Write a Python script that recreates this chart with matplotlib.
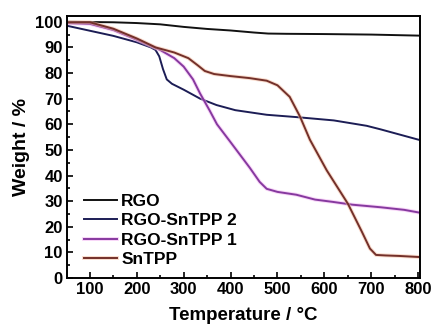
import matplotlib
matplotlib.use("Agg")
import matplotlib.pyplot as plt
import matplotlib.patheffects as pe
from matplotlib.ticker import MultipleLocator

plt.rcParams["font.family"] = ["Liberation Sans", "DejaVu Sans"]
plt.rcParams["font.weight"] = "bold"

# values
rgo_t = [50, 100, 150, 200, 250, 300, 350, 400, 450, 480, 520, 600, 700, 800]
rgo_w = [100, 99.9, 99.8, 99.5, 99.0, 98.0, 97.2, 96.6, 95.8, 95.4, 95.3, 95.2, 95.0, 94.6]

sn2_t = [50, 100, 150, 200, 230, 240, 248, 256, 264, 275, 300, 335, 370, 410, 477, 540, 620, 690, 720, 760, 800]
sn2_w = [98.5, 96.5, 94.5, 92.0, 90.0, 89.0, 86.5, 81.5, 77.5, 75.8, 73.5, 70.0, 67.5, 65.5, 63.7, 62.8, 61.5, 59.4, 58.0, 56.0, 54.0]

sn1_t = [50, 100, 150, 200, 250, 280, 300, 320, 335, 355, 371, 400, 441, 462, 477, 500, 540, 580, 618, 660, 720, 770, 800]
sn1_w = [99.5, 99.2, 96.8, 93.0, 89.0, 85.8, 82.5, 77.5, 72.0, 65.5, 60.0, 53.0, 43.0, 37.5, 34.8, 33.6, 32.5, 30.6, 29.7, 28.6, 27.6, 26.6, 25.6]

snt_t = [50, 100, 150, 200, 240, 280, 310, 330, 345, 365, 400, 441, 477, 500, 526, 548, 569, 605, 650, 680, 697, 710, 730, 760, 800]
snt_w = [99.8, 99.8, 97.3, 93.5, 90.0, 88.0, 85.8, 83.0, 80.8, 79.6, 78.8, 78.0, 77.0, 75.2, 70.7, 63.0, 54.0, 42.0, 29.0, 18.0, 11.5, 9.0, 8.8, 8.6, 8.2]

series = [
    ("RGO", rgo_t, rgo_w, "#111111", None),
    ("RGO-SnTPP 2", sn2_t, sn2_w, "#1c1d55", None),
    ("RGO-SnTPP 1", sn1_t, sn1_w, "#86399f", "#f3b4f3"),
    ("SnTPP", snt_t, snt_w, "#73302a", "#f5c0a5"),
]

fig = plt.figure(figsize=(4.34, 3.24), dpi=100)
ax = fig.add_axes([0.154, 0.142, 0.814, 0.809])

for name, t, w, color, glow in series:
    effects = None
    if glow is not None:
        effects = [pe.Stroke(linewidth=2.8, foreground=glow, alpha=0.55), pe.Normal()]
    ax.plot(t, w, color=color, lw=1.4, label=name, path_effects=effects)

ax.set_xlim(51, 804)
ax.set_ylim(0, 102.3)
ax.xaxis.set_major_locator(MultipleLocator(100))
ax.xaxis.set_minor_locator(MultipleLocator(50))
ax.yaxis.set_major_locator(MultipleLocator(10))
ax.yaxis.set_minor_locator(MultipleLocator(5))
ax.tick_params(which="both", direction="in", width=1.2, labelsize=12, pad=3)
ax.tick_params(which="major", length=4.5)
ax.tick_params(which="minor", length=2.5)
for lab in ax.get_xticklabels() + ax.get_yticklabels():
    lab.set_fontweight("bold")
for sp in ax.spines.values():
    sp.set_linewidth(1.4)

ax.set_xlabel("Temperature / \u00b0C", fontsize=13.5, fontweight="bold", labelpad=7)
ax.set_ylabel("Weight / %", fontsize=14, fontweight="bold", labelpad=4)

ax.legend(loc="upper left", bbox_to_anchor=(0.029, 0.348), frameon=False,
          handlelength=1.9, handletextpad=0.25, labelspacing=0.25,
          borderaxespad=0.0, prop={"weight": "bold", "size": 12.5})

fig.savefig("out.png", dpi=100, facecolor="white")
